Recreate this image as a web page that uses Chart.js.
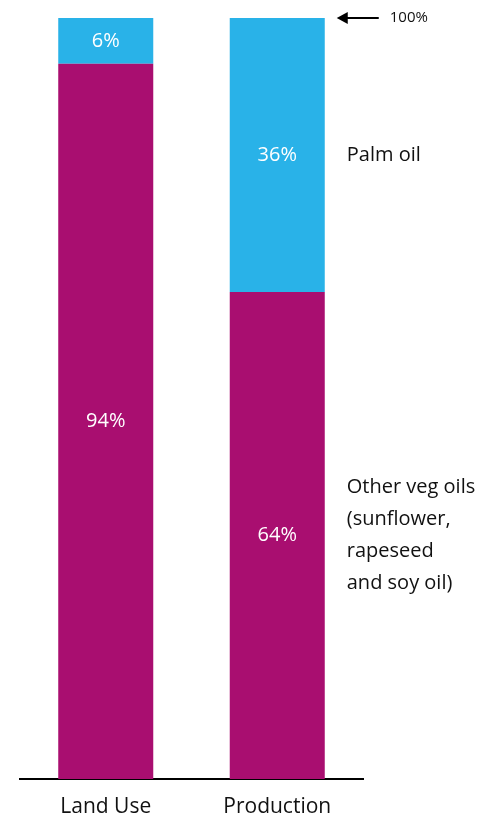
<!DOCTYPE html>
<html>
<head>
<meta charset="utf-8">
<script src="https://cdn.jsdelivr.net/npm/chart.js@4.4.0/dist/chart.umd.min.js"></script>
<style>
  html, body { margin: 0; padding: 0; background: #fff; }
  #wrap { width: 499px; height: 816px; position: relative; }
</style>
</head>
<body>
<div id="wrap"><canvas id="chart"></canvas></div>
<script>
// categories and shares (%)
const categories = ['Land Use', 'Production'];
const otherVegOils = [94, 64];
const palmOil = [6, 36];
const seriesNames = ['Other veg oils\n(sunflower,\nrapeseed\nand soy oil)', 'Palm oil'];
const topMarker = '100%';

const FONT = '"Open Sans", "Noto Sans", sans-serif';

// writes the % inside each segment, the series names beside the last bar and the 100% arrow
const segmentLabels = {
    id: 'segmentLabels',
    afterDatasetsDraw(chart){
        const ctx = chart.ctx;
        ctx.save();
        ctx.textBaseline = 'middle';
        chart.data.datasets.forEach((ds, di) => {
            const meta = chart.getDatasetMeta(di);
            meta.data.forEach((bar, i) => {
                const p = bar.getProps(['x', 'y', 'base', 'width'], true);
                const cy = (p.y + p.base) / 2;
                ctx.fillStyle = '#fff';
                ctx.font = '20px ' + FONT;
                ctx.textAlign = 'center';
                ctx.fillText(ds.data[i] + '%', p.x, cy);
                if (i === meta.data.length - 1) {
                    const lines = ds.label.split('\n');
                    const lh = 32;
                    ctx.fillStyle = '#111';
                    ctx.textAlign = 'left';
                    lines.forEach((ln, k) => {
                        ctx.fillText(ln, p.x + p.width / 2 + 22, cy + (k - (lines.length - 1) / 2) * lh);
                    });
                }
            });
        });
        // arrow pointing at the top of the stack
        const last = chart.getDatasetMeta(chart.data.datasets.length - 1).data[1].getProps(['x', 'y', 'width'], true);
        const ay = last.y;
        const ax = last.x + last.width / 2 + 12;
        ctx.strokeStyle = '#000';
        ctx.fillStyle = '#000';
        ctx.lineWidth = 2;
        ctx.beginPath();
        ctx.moveTo(ax + 8, ay);
        ctx.lineTo(ax + 42, ay);
        ctx.stroke();
        ctx.beginPath();
        ctx.moveTo(ax, ay);
        ctx.lineTo(ax + 11, ay - 6);
        ctx.lineTo(ax + 11, ay + 6);
        ctx.closePath();
        ctx.fill();
        ctx.font = '15px ' + FONT;
        ctx.textAlign = 'left';
        ctx.fillStyle = '#111';
        ctx.fillText(topMarker, ax + 53, ay);
        ctx.restore();
    }
};

new Chart(document.getElementById('chart'), {
    type: 'bar',
    data: {
        labels: categories,
        datasets: [
            { label: seriesNames[0], data: otherVegOils, backgroundColor: '#A90E70' },
            { label: seriesNames[1], data: palmOil, backgroundColor: '#29B2E8' }
        ]
    },
    options: {
        responsive: true,
        maintainAspectRatio: false,
        animation: false,
        layout: { padding: { left: 20, right: 136, top: 18, bottom: -20 } },
        plugins: { legend: { display: false }, tooltip: { enabled: false } },
        datasets: { bar: { categoryPercentage: 1, barPercentage: 0.554, borderWidth: 0 } },
        scales: {
            x: {
                stacked: true,
                grid: { display: false, drawTicks: false },
                border: { display: true, color: '#000', width: 2 },
                ticks: { color: '#111', font: { family: FONT, size: 21, lineHeight: 1 }, padding: 18 }
            },
            y: {
                stacked: true,
                display: false,
                min: 0,
                max: 100
            }
        }
    },
    plugins: [segmentLabels]
});
</script>
</body>
</html>
